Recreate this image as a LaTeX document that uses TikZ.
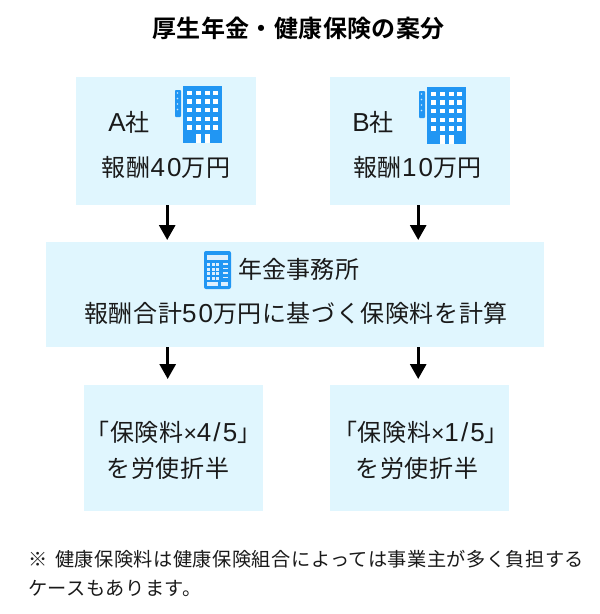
\documentclass[tikz,border=0pt]{standalone}
\usepackage{fontspec}
\setmainfont{Noto Sans CJK JP}
\newfontfamily\jpb[LetterSpace=1.5]{Noto Sans CJK JP Bold}
\newfontfamily\jp[LetterSpace=2.5]{Noto Sans CJK JP}
\newfontfamily\jpf[LetterSpace=2.5]{Noto Sans CJK JP}
\newfontfamily\jpg[LetterSpace=1]{Noto Sans CJK JP}
\newfontfamily\latn[LetterSpace=8]{Liberation Sans}
\newfontfamily\latx{Liberation Sans}
\usetikzlibrary{arrows.meta}
\definecolor{boxfill}{HTML}{E0F6FE}
\definecolor{iconblue}{HTML}{2196F3}
\definecolor{ink}{HTML}{1A1A1A}
\tikzset{
  panel/.style={fill=boxfill,draw=none,inner sep=0pt,anchor=north west},
  label/.style={inner sep=0pt,text=ink,font=\jp\fontsize{24}{28}\selectfont},
  title/.style={inner sep=0pt,text=black,font=\jpb\fontsize{24}{28}\selectfont},
  note/.style={inner sep=0pt,text=ink,anchor=west,font=\jpf\fontsize{19.2}{23}\selectfont},
  flow/.style={draw=black,line width=3pt,-{Triangle[length=15pt,width=16pt]}},
}
\newcommand{\tms}{{\latx\fontsize{23}{24}\selectfont ×}}
\newcommand{\ltn}[1]{{\latn\fontsize{26}{28}\selectfont #1}}
\begin{document}
\begin{tikzpicture}[x=1pt,y=-1pt]
\useasboundingbox (0,0) rectangle (600,614);
\fill[white] (0,0) rectangle (600,614);
\node[title] (t) at (298.5,28) {厚生年金・健康保険の案分};
\node[panel,minimum width=180pt,minimum height=128pt] (a) at (76,77) {};
\node[panel,minimum width=180pt,minimum height=128pt] (b) at (330,77) {};
\node[panel,minimum width=498pt,minimum height=105pt] (o) at (46,242) {};
\node[panel,minimum width=179pt,minimum height=126pt] (l) at (84,385) {};
\node[panel,minimum width=179pt,minimum height=126pt] (r) at (330,385) {};
\node[label] (a1) at (129,122) {\ltn{A}社};
\node[label] (a2) at (166,167.5) {報酬\ltn{40}万円};
\node[label] (b1) at (373,122) {\ltn{B}社};
\node[label] (b2) at (417.5,167.5) {報酬\ltn{10}万円};
\node[label,anchor=west] (o1) at (238,269) {{\jpg 年金事務所}};
\node[label] (o2) at (296,313) {報酬合計\ltn{50}万円に基づく保険料を計算};
\node[label] (l1) at (173.5,432) {「保険料\tms\ltn{4/5}」};
\node[label] (l2) at (168,468) {を労使折半};
\node[label] (r1) at (421,432) {「保険料\tms\ltn{1/5}」};
\node[label] (r2) at (417,468) {を労使折半};
\node[note] (n1) at (28,559) {※\hspace{3pt} 健康保険料は健康保険組合によっては事業主が多く負担する};
\node[note] (n2) at (28,588) {ケースもあります。};
% connectors
\draw[flow,shorten >=2pt] ([xshift=1pt]a.south) -- ([xshift=1pt]a.south |- o.north);
\draw[flow,shorten >=2pt] ([xshift=-2pt]b.south) -- ([xshift=-2pt]b.south |- o.north);
\draw[flow,shorten >=6pt] ([xshift=-6pt]l.north |- o.south) -- ([xshift=-6pt]l.north);
\draw[flow,shorten >=6pt] ([xshift=-1.5pt]r.north |- o.south) -- ([xshift=-1.5pt]r.north);
% building icons
\foreach \ox/\oy in {0/0,244/1}{
  \begin{scope}[shift={(\ox pt,-\oy pt)}]
    \fill[iconblue] (183,86) rectangle (222,143);
    \fill[iconblue,rounded corners=0.8pt] (175,90) rectangle (181,117);
    \foreach \wy in {90.7,99.3,108,116.7,125.3}{
      \foreach \wx in {187.3,196,204.7,213.3}{
        \fill[white] (\wx,\wy) rectangle ++(5,4.4);
      }
    }
    \foreach \wy in {93,98.5,104,109.5}{ \fill[white!75!iconblue] (177.5,\wy) circle (0.9); }
    \fill[white] (196,133.5) rectangle (201,143);
    \fill[white] (204.7,133.5) rectangle (209.7,143);
  \end{scope}
}
% calculator icon
\fill[iconblue,rounded corners=2pt] (204,251) rectangle (231,289);
\fill[white!85!iconblue] (207,254.5) rectangle (228,260);
\foreach \cy in {263,267.5,272,276.5}{
  \foreach \cx in {207,211.5,216}{
    \fill[white!85!iconblue] (\cx,\cy) rectangle ++(3.2,3);
  }
  \fill[white!85!iconblue] (223,\cy) rectangle ++(4.5,1.6);
}
\fill[white!85!iconblue] (207,282) rectangle (218,285.5);
\fill[white!85!iconblue] (221,282) rectangle (228,285.5);
\end{tikzpicture}
\end{document}
